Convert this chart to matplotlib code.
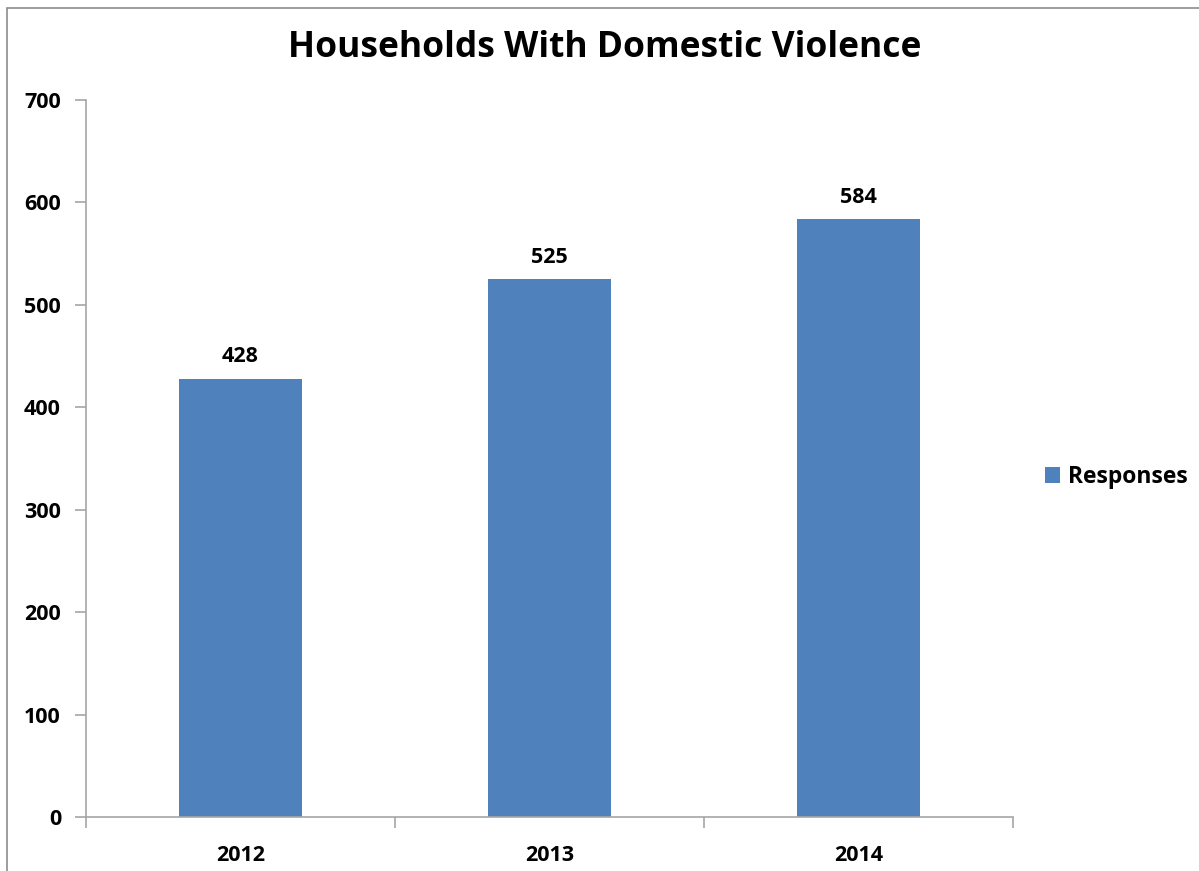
import numpy as np
import matplotlib.pyplot as plt
from matplotlib.patches import Rectangle

# Households with domestic violence responses per year
years = ['2012', '2013', '2014']
responses = [428, 525, 584]
y_ticks = [0, 100, 200, 300, 400, 500, 600, 700]

bar_color = '#4F81BD'
axis_color = '#A6A6A6'

plt.rcParams['font.family'] = ['Open Sans', 'DejaVu Sans']
plt.rcParams['font.weight'] = 'bold'

fig = plt.figure(figsize=(11.99, 8.71), dpi=100)
ax = fig.add_axes([86 / 1199, 1 - 817 / 871, (1013 - 86) / 1199, (817 - 100) / 871])

# outer chart border (cropped at right and bottom like the original)
fig.patches.append(Rectangle((7 / 1199, -0.05), 1.2, 1 - 8 / 871 + 0.05,
                             transform=fig.transFigure, fill=False,
                             edgecolor='#8C8C8C', linewidth=1.2))

x = np.arange(len(years))
bars = ax.bar(x, responses, width=0.4, color=bar_color, label='Responses')

for b, v in zip(bars, responses):
    ax.text(b.get_x() + b.get_width() / 2, v + 11, str(v), ha='center', va='bottom',
            fontsize=15.5, fontweight='bold')

ax.set_xlim(-0.5, len(years) - 0.5)
ax.set_ylim(0, 700)
ax.set_yticks(y_ticks)
ax.set_yticklabels([str(t) for t in y_ticks], fontsize=15.5, fontweight='bold')

# category labels at centres, tick marks at category boundaries
ax.set_xticks(x)
ax.set_xticklabels(years, fontsize=15.5, fontweight='bold')
ax.tick_params(axis='x', which='major', length=0, pad=20)
ax.set_xticks(np.arange(-0.5, len(years)), minor=True)
ax.tick_params(axis='x', which='minor', length=8, color=axis_color, width=1.2, direction='out')
ax.tick_params(axis='y', length=8, color=axis_color, width=1.2, direction='out', pad=10)

for s in ['top', 'right']:
    ax.spines[s].set_visible(False)
for s in ['left', 'bottom']:
    ax.spines[s].set_color(axis_color)
    ax.spines[s].set_linewidth(1.2)

fig.text(605 / 1199, 1 - 48 / 871, 'Households With Domestic Violence', ha='center', va='center',
         fontsize=25.5, fontweight='bold')

leg = fig.legend(handles=[bars], labels=['Responses'], loc='center left',
                 bbox_to_anchor=(1024 / 1199, 1 - 477 / 871), frameon=False,
                 prop={'size': 16.5, 'weight': 'bold'}, handlelength=0.65, handleheight=0.65,
                 handletextpad=0.35)

fig.savefig('out.png', dpi=100, facecolor='white')
